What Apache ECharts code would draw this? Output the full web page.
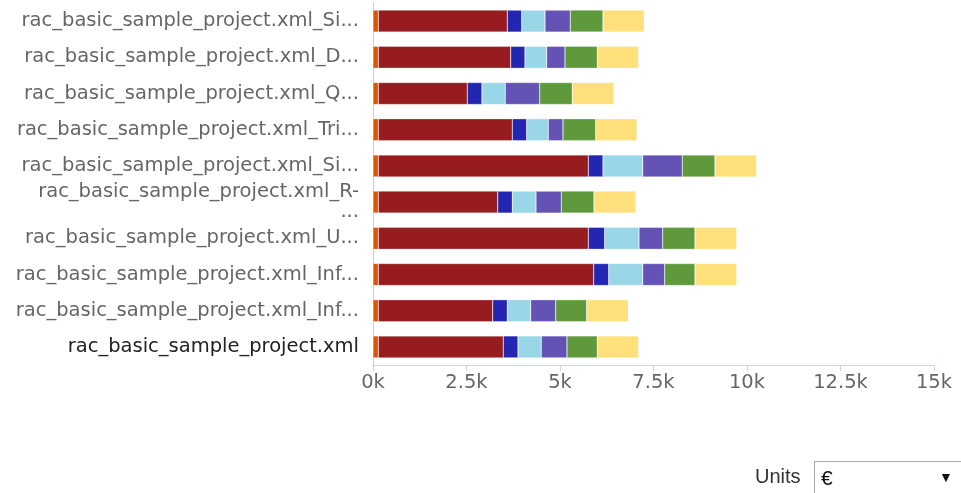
<!DOCTYPE html>
<html>
<head>
<meta charset="utf-8">
<script src="https://cdn.jsdelivr.net/npm/echarts@6/dist/echarts.min.js"></script>
<style>
html,body{margin:0;padding:0;background:#fff;}
#chart{position:absolute;left:0;top:0;width:961px;height:493px;}
#units{position:absolute;left:755px;top:465px;font-family:"Liberation Sans",Arial,sans-serif;font-size:20px;color:#333;}
#sel{position:absolute;left:814px;top:461px;width:160px;height:40px;border:1px solid #a9a9a9;box-sizing:border-box;font-family:"Liberation Sans",Arial,sans-serif;font-size:21px;color:#111;}
#sel .v{position:absolute;left:6px;top:4px;}
#sel .a{position:absolute;left:124px;top:7px;font-size:14px;}
</style>
</head>
<body>
<div id="chart"></div>
<div id="units">Units</div>
<div id="sel"><span class="v">€</span><span class="a">▼</span></div>
<script>
const categories = [
  "rac_basic_sample_project.xml_Si...",
  "rac_basic_sample_project.xml_D...",
  "rac_basic_sample_project.xml_Q...",
  "rac_basic_sample_project.xml_Tri...",
  "rac_basic_sample_project.xml_Si...",
  "rac_basic_sample_project.xml_R-\n...",
  "rac_basic_sample_project.xml_U...",
  "rac_basic_sample_project.xml_Inf...",
  "rac_basic_sample_project.xml_Inf...",
  "rac_basic_sample_project.xml"
];
const seriesNames = ["S1","S2","S3","S4","S5","S6","S7"];
const s1 = [142,142,142,142,142,142,142,142,142,142];
const s2 = [3449,3540,2379,3583,5615,3192,5615,5759,3058,3342];
const s3 = [385,382,393,385,393,391,438,401,391,393];
const s4 = [623,580,623,578,1061,633,917,909,625,623];
const s5 = [676,490,920,392,1059,677,634,588,669,687];
const s6 = [875,863,872,875,874,874,864,811,829,810];
const s7 = [1104,1107,1107,1104,1115,1115,1115,1115,1112,1107];
const seriesData = [s1,s2,s3,s4,s5,s6,s7];
const colors = ["#DE5300","#961C1F","#2326B0","#98D6E8","#6453B5","#5E9A3C","#FFE07A"];

const chart = echarts.init(document.getElementById('chart'), null, {renderer:'canvas'});
chart.setOption({
  animation:false,
  grid:{left:373,right:27,top:3,bottom:128,containLabel:false},
  xAxis:{
    type:'value',min:0,max:15000,interval:2500,
    axisLine:{show:true,lineStyle:{color:'#ccd6eb'}},
    axisTick:{show:true,length:6,lineStyle:{color:'#ccd6eb'}},
    splitLine:{show:false},
    axisLabel:{color:'#666',fontSize:19.5,fontFamily:'DejaVu Sans',margin:8,
      formatter:v=> (v/1000)+'k'}
  },
  yAxis:{
    type:'category',data:categories,inverse:true,
    axisLine:{show:true,lineStyle:{color:'#ccc'}},
    axisTick:{show:false},
    axisLabel:{fontSize:19.5,fontFamily:'DejaVu Sans',margin:14,lineHeight:20,
      color:(v,i)=> i===categories.length-1 ? '#222' : '#666'}
  },
  series: seriesData.map((d,i)=>({
    name:seriesNames[i],type:'bar',stack:'total',data:d,
    barWidth:22,
    itemStyle:{color:colors[i],borderColor:'rgba(255,255,255,0.6)',borderWidth:0.5}
  }))
});
</script>
</body>
</html>
